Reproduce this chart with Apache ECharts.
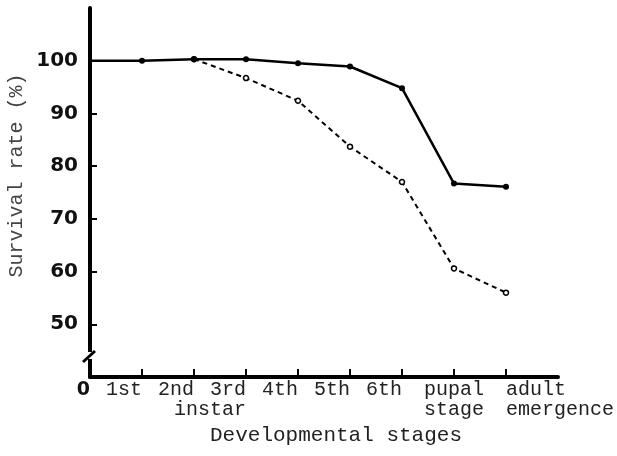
<!DOCTYPE html>
<html>
<head>
<meta charset="utf-8">
<script src="https://cdn.jsdelivr.net/npm/echarts@6/dist/echarts.min.js"></script>
<style>
  html, body { margin: 0; padding: 0; background: #fff; }
  #main { width: 617px; height: 456px; }
</style>
</head>
<body>
<div id="main"></div>
<script>
// stages along the x axis (last slot is empty, the axis runs on past "adult")
var stages = ['0', '1st', '2nd', '3rd\ninstar', '4th', '5th', '6th', 'pupal\nstage', 'adult\nemergence', ''];
// survival rate (%), solid line with filled dots
var solidRate = [100, 100, 100.3, 100.3, 99.5, 98.9, 94.8, 76.7, 76.1, null];
// survival rate (%), dashed line with open dots, splits off at 2nd
var dashedRate = [null, null, 100.3, 96.7, 92.4, 83.7, 77.0, 60.6, 56.0, null];
var yTicks = [50, 60, 70, 80, 90, 100];

var chart = echarts.init(document.getElementById('main'), null, { renderer: 'canvas' });

var monoFont = 'Liberation Mono';
var catData = stages.map(function (s, i) {
  if (i === 0) {
    return { value: s, textStyle: { fontFamily: 'DejaVu Sans', fontWeight: 'bold', fontSize: 19, align: 'right', color: '#111' } };
  }
  if (i === 7) return { value: s, textStyle: { align: 'center' } };
  if (i === 8) return { value: s, textStyle: { align: 'left' } };
  return s;
});

var solidData = solidRate.map(function (v, i) {
  // the solid line starts on the axis without a dot
  if (i === 0) return { value: v, symbol: 'none' };
  return v;
});

var options = {
  animation: false,
  backgroundColor: '#fff',
  grid: { left: 90, right: 59, top: 8, bottom: 79, containLabel: false, outerBoundsMode: 'none' },
  xAxis: {
    type: 'category',
    data: catData,
    boundaryGap: false,
    name: 'Developmental stages',
    nameLocation: 'middle',
    nameGap: 35,
    nameTextStyle: { fontFamily: monoFont, fontSize: 21, color: '#222', padding: [0, 0, 0, 24] },
    axisLine: { lineStyle: { color: '#000', width: 4 } },
    axisTick: {
      inside: true, length: 8,
      interval: function (index) { return index > 0 && index < 9; },
      lineStyle: { color: '#000', width: 2 }
    },
    axisLabel: {
      interval: 0, margin: 3, align: 'right',
      fontFamily: monoFont, fontSize: 20, lineHeight: 20, color: '#222'
    },
    splitLine: { show: false }
  },
  yAxis: {
    type: 'value',
    min: 40,
    max: 110,
    interval: 10,
    name: 'Survival rate (%)',
    nameLocation: 'middle',
    nameGap: 63,
    nameMoveOverlap: false,
    nameTextStyle: { fontFamily: monoFont, fontSize: 20, color: '#444', padding: [0, 0, 0, 34] },
    axisLine: { show: true, lineStyle: { color: '#000', width: 4 } },
    axisTick: { show: true, inside: true, length: 7, customValues: yTicks, lineStyle: { color: '#000', width: 2 } },
    axisLabel: {
      customValues: yTicks, margin: 12,
      fontFamily: 'DejaVu Sans', fontWeight: 'bold', fontSize: 20, color: '#111'
    },
    splitLine: { show: false }
  },
  series: [
    {
      name: 'solid',
      type: 'line',
      data: solidData,
      symbol: 'circle',
      symbolSize: 6,
      itemStyle: { color: '#000' },
      lineStyle: { color: '#000', width: 2.5 },
      z: 3
    },
    {
      name: 'dashed',
      type: 'line',
      data: dashedRate,
      symbol: 'circle',
      symbolSize: 5,
      itemStyle: { color: '#fff', borderColor: '#000', borderWidth: 1.5 },
      lineStyle: { color: '#000', width: 2, type: [5, 4] },
      z: 2
    }
  ],
  graphic: [
    // broken-axis mark near the bottom of the y axis
    { type: 'rect', shape: { x: 85, y: 352, width: 10, height: 7 }, style: { fill: '#fff' }, z: 100 },
    { type: 'line', shape: { x1: 83, y1: 362, x2: 95, y2: 351 }, style: { stroke: '#000', lineWidth: 3 }, z: 101 }
  ]
};

chart.setOption(options);
</script>
</body>
</html>
